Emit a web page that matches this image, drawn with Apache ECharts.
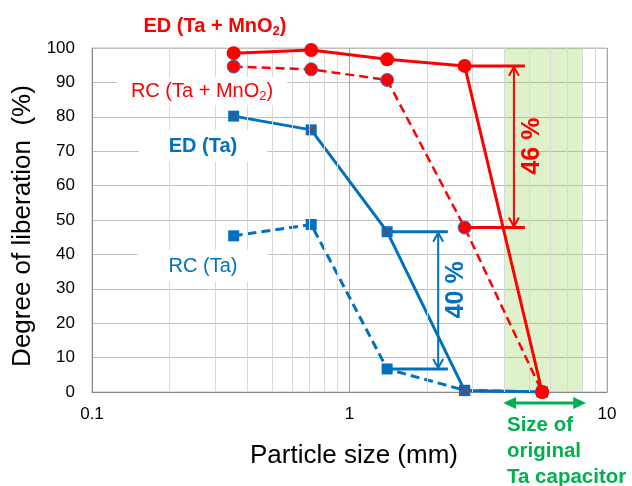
<!DOCTYPE html>
<html><head><meta charset="utf-8">
<script src="https://cdn.jsdelivr.net/npm/echarts/dist/echarts.min.js"></script>
<style>html,body{margin:0;padding:0;background:#fff}#c{width:632px;height:486px}</style>
</head><body><div id="c"></div>
<script>
// ---- data ----
const sizes = [0.355, 0.71, 1.4, 2.8, 5.6];            // particle size (mm)
const edTaMnO2 = [98.5, 99.4, 96.7, 94.8, 0];
const rcTaMnO2 = [94.6, 93.8, 90.7, 47.8, 0];
const edTa = [80.2, 76.2, 46.6, 0.4, 0];
const rcTa = [45.4, 48.7, 6.7, 0.5, 0];
const xTickLabels = ['0.1', '1', '10'];
const minorX = [0.2, 0.3, 0.4, 0.5, 0.6, 0.7, 0.8, 0.9, 2, 3, 4, 5, 6, 7, 8, 9];
const capacitorRange = [4, 8];

const FF = '"Liberation Sans", Arial, sans-serif';
const RED = '#FF0000', BLUE = '#0070C0', GREEN = '#00B050';
const pts = arr => sizes.map((s, i) => [s, arr[i]]);

const chart = echarts.init(document.getElementById('c'), null, {renderer: 'canvas'});
const option = {
  animation: false,
  backgroundColor: '#fff',
  grid: {left: 92, right: 25, top: 48, bottom: 94, show: true, borderColor: '#bfbfbf', borderWidth: 1,
         containLabel: false, outerBoundsMode: 'none'},
  xAxis: {
    type: 'log', logBase: 10, min: 0.1, max: 10,
    axisLine: {show: true, onZero: false, lineStyle: {color: '#868686', width: 1}},
    axisTick: {show: false},
    axisLabel: {fontSize: 17, color: '#000', fontFamily: FF, margin: 14,
      formatter: v => xTickLabels[Math.round(Math.log10(v)) + 1]},
    splitLine: {show: true, lineStyle: {color: '#a6a6a6', width: 1}}
  },
  yAxis: {
    type: 'value', min: 0, max: 100, interval: 10,
    axisLine: {show: true, onZero: false, lineStyle: {color: '#868686', width: 1}},
    axisTick: {show: false},
    axisLabel: {fontSize: 17, color: '#000', fontFamily: FF, margin: 17},
    splitLine: {show: true, lineStyle: {color: '#bfbfbf', width: 1}}
  },
  series: [
    {type: 'line', data: [], z: 1, silent: true,
     markLine: {silent: true, symbol: ['none', 'none'], label: {show: false}, animation: false,
       lineStyle: {color: '#d9d9d9', width: 1, type: 'solid'},
       data: minorX.map(v => ({xAxis: v}))}},
    {type: 'line', data: [], z: 1, silent: true,
     markArea: {silent: true, itemStyle: {color: 'rgba(146,208,80,0.30)'},
       data: [[{xAxis: capacitorRange[0]}, {xAxis: capacitorRange[1]}]]}},
    {name: 'RC (Ta)', type: 'line', data: pts(rcTa), symbol: 'rect', symbolSize: 11, showSymbol: true,
     itemStyle: {color: BLUE}, lineStyle: {color: BLUE, width: 3, type: [9, 5]}, z: 3},
    {name: 'ED (Ta)', type: 'line', data: pts(edTa), symbol: 'rect', symbolSize: 11, showSymbol: true,
     itemStyle: {color: BLUE}, lineStyle: {color: BLUE, width: 3}, z: 4},
    {type: 'scatter', data: pts(edTa), symbol: 'path://M0,0L10,10M10,0L0,10', symbolSize: 9, silent: true,
     itemStyle: {color: 'none', borderColor: RED, borderWidth: 0.8}, z: 5},
    {name: 'RC (Ta + MnO2)', type: 'line', data: pts(rcTaMnO2), symbol: 'circle', symbolSize: 13, showSymbol: true,
     itemStyle: {color: RED, borderColor: '#4472C4', borderWidth: 1}, lineStyle: {color: RED, width: 2.5, type: [9, 5]}, z: 6},
    {name: 'ED (Ta + MnO2)', type: 'line', data: pts(edTaMnO2), symbol: 'circle', symbolSize: 14, showSymbol: true,
     itemStyle: {color: RED}, lineStyle: {color: RED, width: 3}, z: 7}
  ]
};
chart.setOption(option);

// ---- annotations ----
const P = (x, y) => chart.convertToPixel({gridIndex: 0}, [x, y]);
const els = [];
function seg(a, b, color, w) {
  els.push({type: 'line', z: 50, shape: {x1: a[0], y1: a[1], x2: b[0], y2: b[1]}, style: {stroke: color, lineWidth: w}});
}
function chev(points, color, w) {
  els.push({type: 'polyline', z: 50, shape: {points}, style: {stroke: color, lineWidth: w, fill: null}});
}
function vArrow(xv, yTopV, yBotV, color) {
  const t = P(xv, yTopV), b = P(xv, yBotV);
  seg([t[0], t[1] + 1], [b[0], b[1] - 1], color, 2);
  chev([[t[0] - 5, t[1] + 10], [t[0], t[1] + 1], [t[0] + 5, t[1] + 10]], color, 2);
  chev([[b[0] - 5, b[1] - 10], [b[0], b[1] - 1], [b[0] + 5, b[1] - 10]], color, 2);
}
function txt(x, y, text, font, fill, extra) {
  els.push(Object.assign({type: 'text', z: 60, x, y,
    style: Object.assign({text, font, fill, align: 'center', verticalAlign: 'middle'}, (extra && extra.style) || {})},
    extra && extra.rotation ? {rotation: extra.rotation} : {}));
}

// red 46 % bracket
seg(P(sizes[3], edTaMnO2[3]), P(4.8, edTaMnO2[3]), RED, 3);
seg(P(sizes[3], rcTaMnO2[3]), P(4.8, rcTaMnO2[3]), RED, 3);
vArrow(4.35, edTaMnO2[3], rcTaMnO2[3], RED);
// blue 40 % bracket
seg(P(sizes[2], edTa[2]), P(2.41, edTa[2]), BLUE, 3);
seg(P(sizes[2], rcTa[2]), P(2.41, rcTa[2]), BLUE, 3);
vArrow(2.21, edTa[2], rcTa[2], BLUE);

const p46 = P(5.1, 71.5), p40 = P(2.59, 29.7);
txt(p46[0], p46[1], '46 %', 'bold 25px ' + FF, RED, {rotation: Math.PI / 2});
txt(p40[0], p40[1], '40 %', 'bold 25px ' + FF, BLUE, {rotation: Math.PI / 2});

// green size arrow
const gl = P(3.95, 0), gr = P(8.3, 0);
const gy = gl[1] + 11;
seg([gl[0] + 8, gy], [gr[0] - 8, gy], GREEN, 3);
els.push({type: 'polygon', z: 50, shape: {points: [[gl[0], gy], [gl[0] + 13, gy - 6], [gl[0] + 13, gy + 6]]}, style: {fill: GREEN}});
els.push({type: 'polygon', z: 50, shape: {points: [[gr[0], gy], [gr[0] - 13, gy - 6], [gr[0] - 13, gy + 6]]}, style: {fill: GREEN}});
els.push({type: 'text', z: 60, x: 507, y: 412,
  style: {text: 'Size of\noriginal\nTa capacitor', font: 'bold 20.5px ' + FF, fill: GREEN, align: 'left', verticalAlign: 'top', lineHeight: 26}});

// series labels
function richLabel(x, y, pre, bold, color, bg, pad) {
  const w = bold ? 'bold' : 'normal';
  els.push({type: 'text', z: 60, x, y, style: {
    text: pre, align: 'center', verticalAlign: 'middle',
    backgroundColor: bg, padding: pad,
    rich: {
      a: {fontSize: 20, fontWeight: w, fontFamily: FF, fill: color, color: color},
      s: {fontSize: 13, fontWeight: w, fontFamily: FF, fill: color, color: color, padding: [11, 0, 0, 0]}
    }}});
}
richLabel(215, 26, '{a|ED (Ta + MnO}{s|2}{a|)}', true, RED, null, 0);
richLabel(202, 91, '{a|RC (Ta + MnO}{s|2}{a|)}', false, RED, '#fff', [2, 14]);
txt(203, 146, 'ED (Ta)', 'bold 20px ' + FF, BLUE, {style: {backgroundColor: '#fff', padding: [6, 30]}});
txt(203, 266, 'RC (Ta)', '20px ' + FF, BLUE, {style: {backgroundColor: '#fff', padding: [6, 31]}});

// axis names
txt(354, 456, 'Particle size (mm)', '26px ' + FF, '#000');
txt(23, 226, 'Degree of liberation  (%)', '26px ' + FF, '#000', {rotation: Math.PI / 2});

chart.setOption({graphic: {elements: els}});
</script>
</body></html>
